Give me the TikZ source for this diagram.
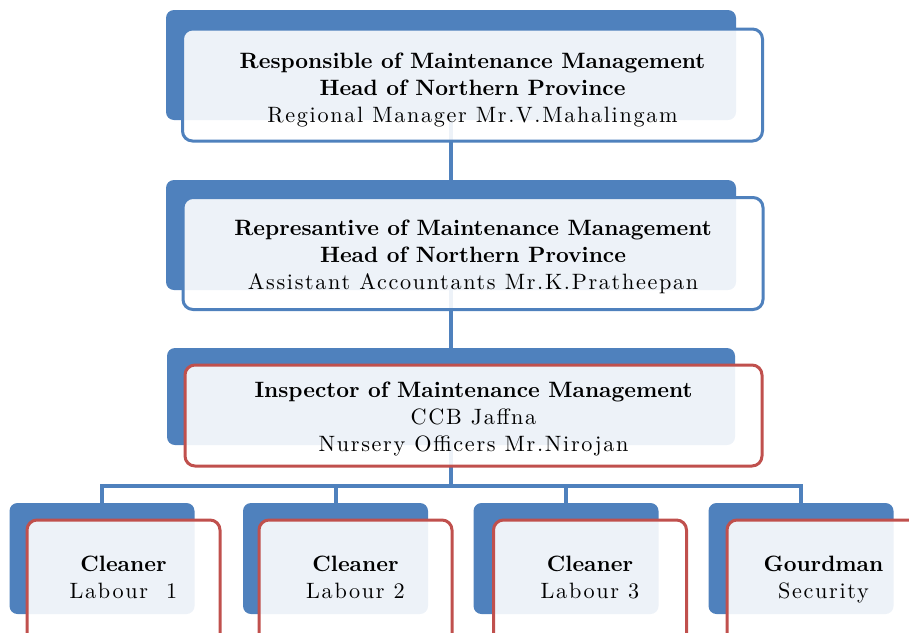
\documentclass[tikz,border=0pt]{standalone}
\usepackage{fontspec}
\setmainfont{lmroman10-regular.otf}[BoldFont=lmroman10-bold.otf,ItalicFont=lmroman10-italic.otf]
\usetikzlibrary{backgrounds}

\definecolor{ofblue}{HTML}{4F81BD}
\definecolor{ofred}{HTML}{C0504D}
\newcommand{\wide}[1]{{\addfontfeatures{LetterSpace=7.5}#1}}
\newcommand{\pad}[1]{\rule{0pt}{#1}}

\begin{document}
\begin{tikzpicture}[x=0.5pt,y=-0.5pt,
  back/.style={fill=ofblue,rounded corners=4pt,inner sep=0pt},
  front/.style={draw=ofblue,line width=1.5pt,fill=white,fill opacity=0.9,text opacity=1,
    rounded corners=5pt,inner sep=0pt,align=center,font=\fontsize{11.1}{13.5}\selectfont},
  redfront/.style={front,draw=ofred},
  bigback/.style={back,minimum width=285pt,minimum height=55pt},
  bigfront/.style={minimum width=290pt,minimum height=56pt},
  smallback/.style={back,minimum width=92.5pt,minimum height=55.5pt},
  smallfront/.style={redfront,minimum width=96.5pt,minimum height=62.5pt},
  link/.style={draw=ofblue,line width=2pt}]
\useasboundingbox (0,0) rectangle (909,632);
\clip (0,0) rectangle (909,632);

% responsible
\node[bigback] (resp-bg) at (451,65) {};
\node[front,bigfront] (resp) at (472.5,85)
  {\pad{13pt}\textbf{Responsible of Maintenance Management}\\
   \textbf{Head of Northern Province}\\
   \wide{Regional Manager Mr.V.Mahalingam}};

% representative
\node[bigback] (rep-bg) at (451,235) {};
\node[front,bigfront] (rep) at (473,253.5)
  {\pad{11pt}\textbf{Represantive of Maintenance Management}\\
   \textbf{Head of Northern Province}\\
   \wide{Assistant Accountants Mr.K.Pratheepan}};

% inspector
\node[back,minimum width=284pt,minimum height=48.5pt] (insp-bg) at (451,396.5) {};
\node[redfront,minimum width=288.5pt,minimum height=50.5pt] (insp) at (473.5,415.5)
  {\pad{11pt}\textbf{Inspector of Maintenance Management}\\
   \wide{CCB Jaffna}\\
   \wide{Nursery Officers Mr.Nirojan}};

% staff
\foreach \n/\bx/\fx/\job/\who in {c1/102/123.5/Cleaner/Labour\ \ 1,
    c2/335.5/355.5/Cleaner/Labour 2,
    c3/566/590/Cleaner/Labour 3,
    c4/801/823.5/Gourdman/Security}{
  \node[smallback] (\n-bg) at (\bx,558.5) {};
  \node[smallfront] (\n) at (\fx,582.5) {\textbf{\job}\\ \wide{\who}\rule[-5pt]{0pt}{5pt}};
}

% lines
\coordinate (split) at (451,486);
\begin{pgfonlayer}{background}
\draw[link] (resp-bg.south) -- (rep-bg.north);
\draw[link] (rep-bg.south) -- (insp-bg.north);
\draw[link] (insp-bg.south) -- (split);
\foreach \n in {c1,c2,c3,c4}
  \draw[link] (split) -| (\n-bg.north);
\end{pgfonlayer}

\end{tikzpicture}
\end{document}
